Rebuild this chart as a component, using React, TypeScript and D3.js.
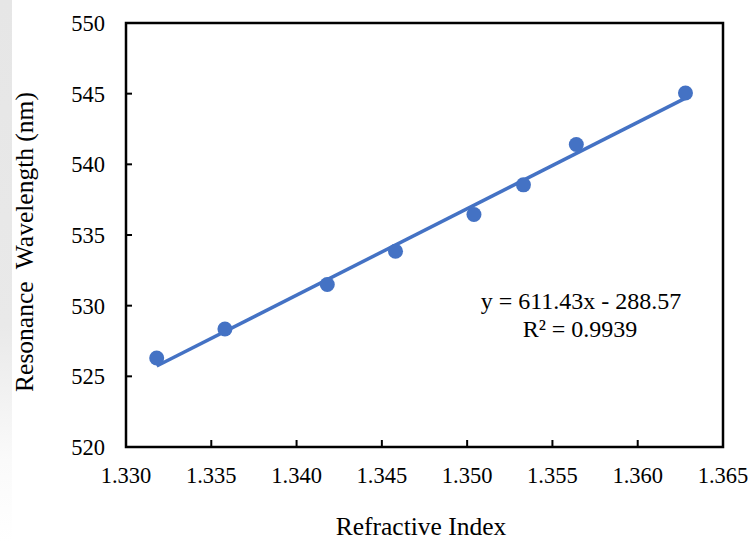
import React from "react";
import * as d3 from "d3";

const refractiveIndex = [1.3318, 1.3358, 1.3418, 1.3458, 1.3504, 1.3533, 1.3564, 1.3628];
const wavelength = [526.3, 528.35, 531.5, 533.85, 536.45, 538.55, 541.4, 545.05];
const xTicks = [1.33, 1.335, 1.34, 1.345, 1.35, 1.355, 1.36, 1.365];
const yTicks = [520, 525, 530, 535, 540, 545, 550];
const slope = 611.43;
const intercept = -288.57;
const equationText = "y = 611.43x - 288.57";
const r2Text = "R² = 0.9939";

const W = 752;
const H = 542;
const left = 126;
const right = 723;
const top = 23;
const bottom = 447;
const blue = "#4472C4";
const font = "'Liberation Serif', 'Times New Roman', serif";

export default function App() {
  const x = d3.scaleLinear().domain([1.33, 1.365]).range([left, right]);
  const y = d3.scaleLinear().domain([520, 550]).range([bottom, top]);
  const xMin = d3.min(refractiveIndex)!;
  const xMax = d3.max(refractiveIndex)!;
  const trend = d3.line<number>()
    .x((d) => x(d))
    .y((d) => y(slope * d + intercept))([xMin, xMax]);

  return (
    <svg width={W} height={H} style={{ position: "absolute", left: 0, top: 0, background: "#fff" }}>
      <defs>
        <linearGradient id="shade" x1="0" y1="0" x2="0" y2="1">
          <stop offset="0" stopColor="#e6e6e6" />
          <stop offset="0.6" stopColor="#e9e9e9" />
          <stop offset="0.85" stopColor="#fafafa" />
          <stop offset="1" stopColor="#ffffff" />
        </linearGradient>
      </defs>
      <rect x={0} y={0} width={W} height={H} fill="#fff" />
      <rect x={0} y={0} width={12} height={H} fill="url(#shade)" />

      {yTicks.map((t) => (
        <line key={"yt" + t} x1={left} x2={left + 6} y1={y(t)} y2={y(t)} stroke="#000" strokeWidth={2} />
      ))}
      {xTicks.map((t) => (
        <line key={"xt" + t} x1={x(t)} x2={x(t)} y1={bottom} y2={bottom - 7} stroke="#000" strokeWidth={2} />
      ))}

      <rect x={left} y={top} width={right - left} height={bottom - top} fill="none" stroke="#000" strokeWidth={2.5} />

      {yTicks.map((t) => (
        <text key={"yl" + t} x={105} y={y(t) + 8} textAnchor="end" fontFamily={font} fontSize={22.5} fill="#000">
          {t}
        </text>
      ))}
      {xTicks.map((t) => (
        <text key={"xl" + t} x={x(t)} y={483} textAnchor="middle" fontFamily={font} fontSize={22.5} fill="#000">
          {d3.format(".3f")(t)}
        </text>
      ))}

      <path d={trend ?? ""} stroke={blue} strokeWidth={3.5} fill="none" />

      {refractiveIndex.map((v, i) => (
        <circle key={"p" + i} cx={x(v)} cy={y(wavelength[i])} r={7.5} fill={blue} />
      ))}

      <text x={581} y={309} textAnchor="middle" fontFamily={font} fontSize={24} fill="#000">{equationText}</text>
      <text x={580} y={337} textAnchor="middle" fontFamily={font} fontSize={24} fill="#000">{r2Text}</text>

      <text x={421} y={535} textAnchor="middle" fontFamily={font} fontSize={25.5} fill="#000">Refractive Index</text>
      <text
        transform={`translate(33, ${242}) rotate(-90)`}
        textAnchor="middle"
        fontFamily={font}
        fontSize={25.5}
        fill="#000"
        style={{ whiteSpace: "pre" }}
      >
        {"Resonance  Wavelength (nm)"}
      </text>
    </svg>
  );
}
